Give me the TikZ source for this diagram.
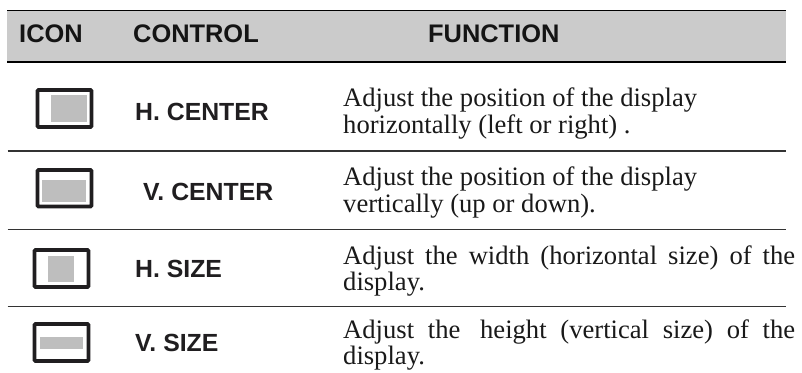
\documentclass[tikz,border=0pt]{standalone}
\usepackage{fontspec}
\setmainfont{Liberation Serif}
\newfontfamily\headfont{Liberation Sans}[BoldFont={Liberation Sans Bold}]
\definecolor{headgray}{RGB}{203,203,203}
\definecolor{icongray}{RGB}{190,190,190}
\definecolor{inkdark}{RGB}{32,30,32}
\tikzset{
  x=1pt,y=-1pt,
  headtext/.style={anchor=base west,inner sep=0pt,font=\headfont\bfseries\fontsize{25.4}{25}\selectfont,text=black!92},
  ctrltext/.style={anchor=base west,inner sep=0pt,font=\headfont\bfseries\fontsize{24.8}{25}\selectfont,text=inkdark},
  desctext/.style={anchor=base west,inner sep=0pt,font=\fontsize{26.6}{26}\selectfont,text=black!90},
  rowrule/.style={line width=1.2pt,draw=black!80},
  headrule/.style={line width=1.2pt,draw=black},
  iconframe/.style={draw=inkdark,line width=3.6pt,rounded corners=1pt,fill=white},
  iconfill/.style={fill=icongray,draw=none},
}
\begin{document}
\begin{tikzpicture}
\useasboundingbox (0,0) rectangle (802,372);
\fill[white] (0,0) rectangle (802,372);
\fill[headgray] (7,10.5) rectangle (786,62);
\draw[headrule] (7,10.5) -- (786,10.5);
\draw[headrule] (7,62) -- (786,62);
\draw[rowrule] (7.5,151) -- (786,151);
\draw[rowrule] (7.5,229.5) -- (786,229.5);
\draw[rowrule] (7.5,306.5) -- (786,306.5);
\node[headtext] (hicon) at (19,42) {ICON};
\node[headtext] (hcontrol) at (133,42) {CONTROL};
\node[headtext] (hfunction) at (428,42) {FUNCTION};
\draw[iconframe] (37.5,90) rectangle (91.5,127);
\fill[iconfill] (51,95) rectangle (87,122);
\draw[iconframe] (37.5,170) rectangle (91.5,206.5);
\fill[iconfill] (42,180) rectangle (86,202);
\draw[iconframe] (34.5,250) rectangle (88.5,287);
\fill[iconfill] (48,256) rectangle (74,282);
\draw[iconframe] (34.5,324) rectangle (88.5,361);
\fill[iconfill] (40,337) rectangle (83,349);
\node[ctrltext] (c1) at (135,120) {H. CENTER};
\node[ctrltext] (c2) at (143,200) {V. CENTER};
\node[ctrltext] (c3) at (135,277.5) {H. SIZE};
\node[ctrltext] (c4) at (135,351.5) {V. SIZE};
\node[desctext] (d1a) at (343,106.7) {Adjust the position of the display};
\node[desctext] (d1b) at (343,133) {horizontally (left or right) .};
\node[desctext] (d2a) at (343,185.7) {Adjust the position of the display};
\node[desctext] (d2b) at (343,212) {vertically (up or down).};
\node[desctext] (d3a) at (343,264.3) {\makebox[452pt][s]{Adjust the width (horizontal size) of the}};
\node[desctext] (d3b) at (343,290) {display.};
\node[desctext] (d4a) at (343,338) {\makebox[452pt][s]{Adjust the\hspace{6pt} height (vertical size) of the}};
\node[desctext] (d4b) at (343,364) {display.};
\end{tikzpicture}
\end{document}
